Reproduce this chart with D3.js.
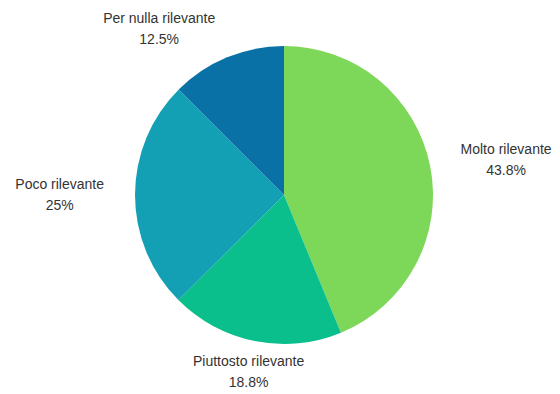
<!DOCTYPE html>
<html>
<head>
<meta charset="utf-8">
<script src="https://cdn.jsdelivr.net/npm/d3@7"></script>
<style>
  html, body { margin: 0; padding: 0; background: #ffffff; }
  svg { display: block; }
</style>
</head>
<body>
<svg id="chart" width="560" height="394"></svg>
<script>
// Risposte e relative quote (%)
const categories = ["Molto rilevante", "Piuttosto rilevante", "Poco rilevante", "Per nulla rilevante"];
const values = [43.8, 18.8, 25, 12.5];
const valueLabels = ["43.8%", "18.8%", "25%", "12.5%"];
const colors = ["#7dd759", "#0abf8c", "#14a0b4", "#0a71a7"];

const width = 560, height = 394;
const cx = 284, cy = 195, radius = 149, labelRadius = 180;

const svg = d3.select("#chart");
const g = svg.append("g").attr("transform", `translate(${cx},${cy})`);

const data = categories.map((c, i) => ({ name: c, value: values[i], label: valueLabels[i], color: colors[i] }));

const pie = d3.pie().value(d => d.value).sort(null);
const arc = d3.arc().innerRadius(0).outerRadius(radius);
const labelArc = d3.arc().innerRadius(labelRadius).outerRadius(labelRadius);

const arcs = pie(data);

g.selectAll("path.slice")
  .data(arcs)
  .join("path")
  .attr("class", "slice")
  .attr("d", arc)
  .attr("fill", d => d.data.color);

const labels = g.selectAll("text.lbl")
  .data(arcs)
  .join("text")
  .attr("class", "lbl")
  .attr("font-family", "'Liberation Sans', Arial, sans-serif")
  .attr("font-size", 14)
  .attr("fill", "#333333")
  .each(function(d) {
    const [x, y] = labelArc.centroid(d);
    const mid = (d.startAngle + d.endAngle) / 2;
    const s = Math.sin(mid);
    const anchor = Math.abs(s) < 0.3 ? "middle" : (s > 0 ? "start" : "end");
    const t = d3.select(this).attr("text-anchor", anchor);
    // Two lines: category name and percentage, centred on the anchor point
    const name = t.append("tspan").attr("x", x).attr("y", y - 10.5)
      .attr("dominant-baseline", "central").text(d.data.name);
    const nameW = name.node().getComputedTextLength();
    let px = x;
    if (anchor === "start") px = x + nameW / 2;
    if (anchor === "end") px = x - nameW / 2;
    t.append("tspan").attr("x", px).attr("y", y + 10.5)
      .attr("dominant-baseline", "central")
      .attr("text-anchor", "middle")
      .text(d.data.label);
  });
</script>
</body>
</html>
